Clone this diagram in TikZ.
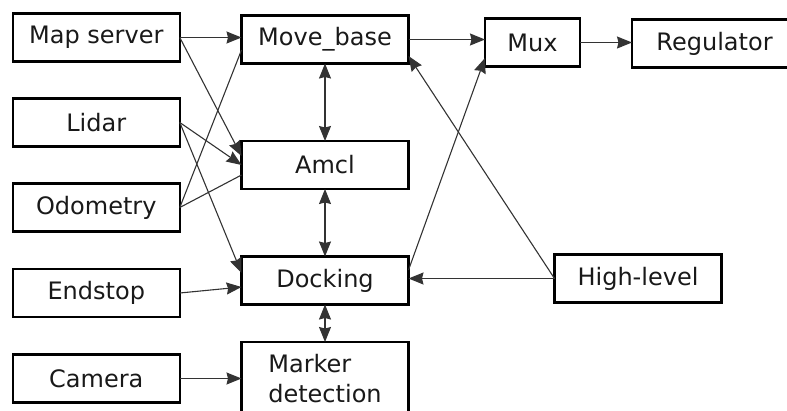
\documentclass[tikz,border=0pt]{standalone}
\usepackage{fontspec}
\setmainfont{DejaVu Sans}
\usetikzlibrary{arrows.meta,calc}

\begin{document}
\begin{tikzpicture}[x=1pt,y=-1pt,
  block/.style={draw=black, line width=2.3pt, fill=white, outer sep=0pt, inner sep=0pt,
    minimum height=48pt, text=black!90,
    font=\fontsize{24}{30}\selectfont},
  wide/.style={block, minimum width=167pt},
  narrow/.style={block, minimum width=95pt},
  conn/.style={draw=black!80, line width=1.1pt, -{Stealth[length=15pt,width=12pt,inset=1.5pt]}},
  bothway/.style={draw=black!80, line width=1.1pt, {Stealth[length=15pt,width=12pt,inset=1.5pt]}-{Stealth[length=15pt,width=12pt,inset=1.5pt]}},
  plain/.style={draw=black!80, line width=1.1pt}]

\useasboundingbox (0,0) rectangle (787,410);

% input sources
\node[wide] (map)  at (96.3,37.5)  {Map server};
\node[wide] (lid)  at (96.3,122.5) {Lidar};
\node[wide] (odo)  at (96.3,207.5) {Odometry};
\node[wide] (end)  at (96.3,293)   {Endstop};
\node[wide] (cam)  at (96.3,378.5) {Camera};

% processing chain
\node[wide] (move) at (325,39.5)  {Move\_base};
\node[wide] (amcl) at (325,165)   {Amcl};
\node[wide] (dock) at (325,280.5) {Docking};
\node[wide, minimum height=73pt, align=left] (mark) at (325,378.5) {Marker\\detection};

% output side
\node[narrow] (mux) at (532.5,42.5) {Mux};
\node[wide, minimum width=165pt] (reg) at (714.5,43.5) {Regulator};
\node[wide] (high) at (638,278.5) {High-level};

% connectors from the sources
\draw[conn] (map.east) -- (map.east -| move.west);
\draw[conn] (map.east) -- ($(amcl.west)+(0,-9)$);
\draw[conn] (lid.east) -- (amcl.west);
\draw[conn] (lid.east) -- ($(dock.west)+(0,-7.5)$);
\draw[plain] (odo.east) -- ($(move.west)+(0,10.5)$);
\draw[plain] (odo.east) -- ($(amcl.west)+(0,10)$);
\draw[conn] (end.east) -- ($(dock.west)+(0,6.5)$);
\draw[conn] (cam.east) -- (cam.east -| mark.west);

% two-way links along the chain
\draw[bothway] (move.south) -- (amcl.north);
\draw[bothway] (amcl.south) -- (dock.north);
\draw[bothway] (dock.south) -- (mark.north);

% towards the mux
\draw[conn] (move.east) -- (move.east -| mux.west);
\draw[conn] ($(dock.east)+(0,-10.5)$) -- ($(mux.west)+(0,15.5)$);
\draw[conn] (mux.east) -- (mux.east -| reg.west);

% high-level commands
\draw[conn] (high.west) -- ($(move.east)+(0,16.5)$);
\draw[conn] (high.west) -- (high.west -| dock.east);

\end{tikzpicture}
\end{document}
